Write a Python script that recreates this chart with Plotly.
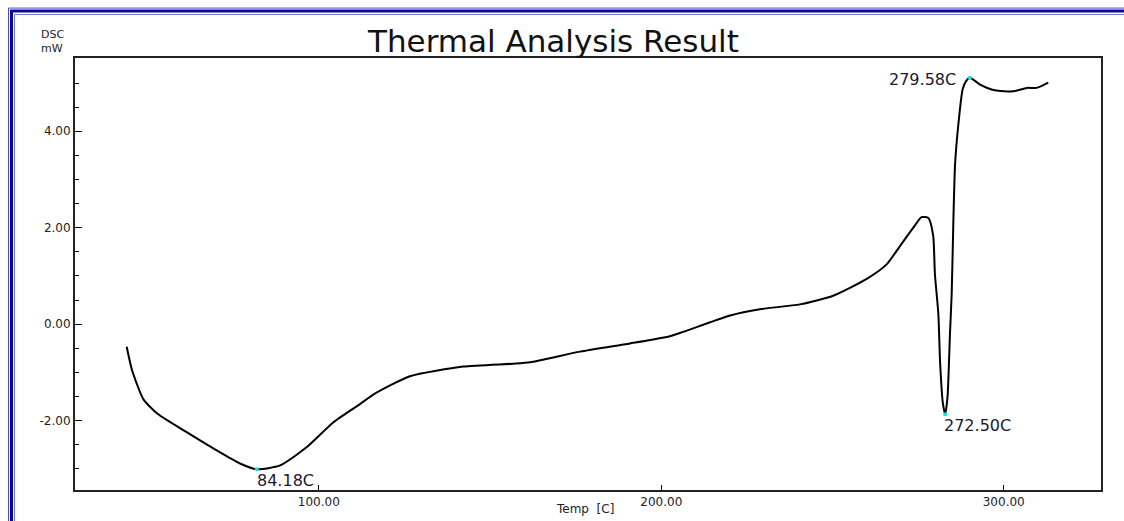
import numpy as np
import plotly.graph_objects as go

# ---- data ----
temp_c = [43.9, 45.4, 48.8, 53.1, 61.4, 70.2, 77.0, 81.9, 88.7, 96.5,
          104.2, 112.0, 115.9, 126.6, 142.2, 156.8, 161.7, 176.3, 190.9, 202.5,
          206.4, 220.1, 228.8, 240.5, 250.2, 260.0, 265.8, 269.7, 273.6, 276.0,
          278.0, 279.4, 279.9, 280.9, 281.4, 282.2, 282.9, 283.6, 284.3, 284.8,
          285.3, 285.8, 286.7, 288.0, 289.0, 290.1, 293.1, 297.4, 302.8, 306.7,
          309.6, 313.0]
dsc_mw = [-0.47, -0.94, -1.56, -1.87, -2.24, -2.62, -2.89, -3.01, -2.93, -2.55,
          -2.04, -1.66, -1.46, -1.08, -0.88, -0.82, -0.79, -0.57, -0.40, -0.25,
          -0.16, 0.18, 0.31, 0.41, 0.59, 0.94, 1.24, 1.62, 2.00, 2.22,
          2.20, 1.83, 1.04, 0.22, -0.77, -1.63, -1.87, -1.49, -0.19, 0.63,
          2.17, 3.33, 4.11, 4.87, 5.04, 5.11, 4.97, 4.85, 4.83, 4.90,
          4.90, 5.01]
peak_labels = ["84.18C", "272.50C", "279.58C"]
x_tickvals = [100, 200, 300]
x_ticktext = ["100.00", "200.00", "300.00"]
y_tickvals = [-2, 0, 2, 4]
y_ticktext = ["-2.00", "0.00", "2.00", "4.00"]
title_text = "Thermal Analysis Result"
y_title = "DSC<br>mW"
x_title = "Temp  [C]"

# ---- layout geometry (pixels) ----
W, H = 1124, 521
L, R, T, B = 75, 1101, 58, 495


def pxx(v):
    return (v - L) / (R - L)


def pxy(v):
    return (B - v) / (B - T)


x = np.array(temp_c)
y = np.array(dsc_mw)
i1 = int(np.argmin(np.where(x < 150, y, np.inf)))
i2 = int(np.argmin(np.where(x > 250, y, np.inf)))
i3 = int(np.argmax(y))
pk_idx = [i1, i2, i3]

fig = go.Figure()
fig.add_trace(go.Scatter(x=temp_c, y=dsc_mw, mode="lines",
                         line=dict(color="#000000", width=2, shape="spline", smoothing=0.6),
                         hoverinfo="skip"))
fig.add_trace(go.Scatter(x=[temp_c[i] for i in pk_idx], y=[dsc_mw[i] for i in pk_idx],
                         mode="markers", marker=dict(color="#00e5ee", size=4),
                         hoverinfo="skip"))

ann_font = dict(family="DejaVu Sans", size=16, color="#1a1a2e")
anns = [
    dict(x=temp_c[i1], y=dsc_mw[i1], text=peak_labels[0], xanchor="left", yanchor="top",
         xshift=-2, yshift=0),
    dict(x=temp_c[i2], y=dsc_mw[i2], text=peak_labels[1], xanchor="left", yanchor="top",
         xshift=-3, yshift=0),
    dict(x=temp_c[i3], y=dsc_mw[i3], text=peak_labels[2], xanchor="right", yanchor="middle",
         xshift=-12, yshift=-2),
]
for a in anns:
    fig.add_annotation(xref="x", yref="y", showarrow=False, font=ann_font, **a)

fig.add_annotation(xref="paper", yref="paper", x=pxx(553), y=pxy(41), text=title_text,
                   showarrow=False, xanchor="center", yanchor="middle",
                   font=dict(family="DejaVu Sans", size=31, color="#111111"))
fig.add_annotation(xref="paper", yref="paper", x=pxx(39), y=pxy(41), text=y_title,
                   showarrow=False, xanchor="left", yanchor="middle", align="left",
                   font=dict(family="DejaVu Sans", size=11, color="#222222"))
fig.add_annotation(xref="paper", yref="paper", x=pxx(585), y=pxy(514), text=x_title,
                   showarrow=False, xanchor="center", yanchor="middle",
                   font=dict(family="DejaVu Sans", size=12, color="#222222"))

# double blue frame
frame = [(8.5, 7.5, "#4a4ad0", 1), (11.5, 10.5, "#0a0a8c", 3), (14.5, 14, "#7a7ad8", 1)]
for fx, fy, col, wd in frame:
    fig.add_shape(type="rect", xref="paper", yref="paper",
                  x0=pxx(fx), y0=pxy(fy), x1=pxx(W + 30), y1=pxy(H + 30),
                  line=dict(color=col, width=wd), layer="below")

tick_font = dict(family="DejaVu Sans", size=12, color="#222222")
fig.update_xaxes(range=[28.8, 328.4], tickvals=x_tickvals, ticktext=x_ticktext,
                 ticks="inside", ticklen=5, tickwidth=1, tickcolor="#000",
                 showline=True, linecolor="#222", linewidth=2, mirror=True,
                 showgrid=False, zeroline=False, tickfont=tick_font, ticklabelstandoff=0)
fig.update_yaxes(range=[-3.44, 5.52], tickvals=y_tickvals, ticktext=y_ticktext,
                 ticks="inside", ticklen=7, tickwidth=1, tickcolor="#000",
                 minor=dict(dtick=0.5, tick0=0, ticks="inside", ticklen=4, tickcolor="#000"),
                 showline=True, linecolor="#222", linewidth=2, mirror=True,
                 showgrid=False, zeroline=False, tickfont=tick_font)

fig.update_layout(width=W, height=H, autosize=False, showlegend=False,
                  margin=dict(l=L, r=W - R, t=T, b=H - B),
                  paper_bgcolor="white", plot_bgcolor="white")

fig.write_html("out.html", config={"displayModeBar": False},
               post_script="document.body.style.margin='0';document.body.style.overflow='hidden';")
